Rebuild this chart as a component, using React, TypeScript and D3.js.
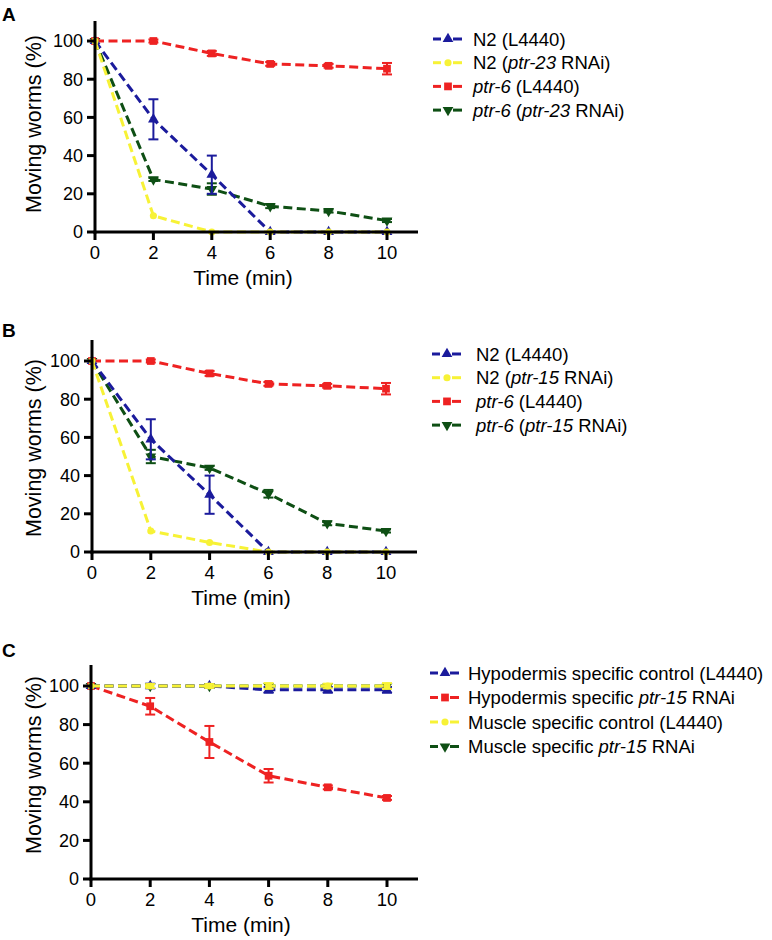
import React, { useEffect, useRef } from "react";
import * as d3 from "d3";

// ---------- data ----------
const TIMES = [0, 2, 4, 6, 8, 10];
const Y_TICKS = [0, 20, 40, 60, 80, 100];
const X_TICKS = [0, 2, 4, 6, 8, 10];
const X_TITLE = "Time (min)";
const Y_TITLE = "Moving worms (%)";

// Panel A
const A_N2_L4440 = [100, 59, 30, 0, 0, 0];
const A_N2_L4440_ERR = [0, 10.5, 10, 0, 0, 0];
const A_N2_PTR23 = [100, 8.5, 0, 0, 0, 0];
const A_N2_PTR23_ERR = [0, 0, 0, 0, 0, 0];
const A_PTR6_L4440 = [100, 100, 93.5, 88, 87, 85.5];
const A_PTR6_L4440_ERR = [0, 0.8, 1.3, 1, 1, 3];
const A_PTR6_PTR23 = [100, 27.5, 22.5, 13.5, 11, 6];
const A_PTR6_PTR23_ERR = [0, 0.8, 3, 1, 0.8, 0.8];

// Panel B
const B_N2_L4440 = [100, 59, 30, 0, 0, 0];
const B_N2_L4440_ERR = [0, 10.5, 10, 0, 0, 0];
const B_N2_PTR15 = [100, 11, 5, 0, 0, 0];
const B_N2_PTR15_ERR = [0, 0, 0, 0, 0, 0];
const B_PTR6_L4440 = [100, 100, 93.5, 88, 87, 85.5];
const B_PTR6_L4440_ERR = [0, 0.8, 1.3, 1, 1, 3];
const B_PTR6_PTR15 = [100, 50, 44, 30.5, 15, 11];
const B_PTR6_PTR15_ERR = [0, 3.5, 1, 2, 1, 0.8];

// Panel C
const C_HYPO_CTRL = [100, 100, 100, 98, 98, 98];
const C_HYPO_CTRL_ERR = [0, 1.2, 1, 1.5, 1.5, 1.5];
const C_HYPO_PTR15 = [100, 89.5, 71, 53.5, 47.5, 42];
const C_HYPO_PTR15_ERR = [0, 4.3, 8.3, 3.5, 1, 1];
const C_MUSC_CTRL = [100, 100, 100, 100, 100, 100];
const C_MUSC_CTRL_ERR = [0, 1, 1, 1.5, 1.2, 1.5];
const C_MUSC_PTR15 = [100, 100, 100, 100, 100, 100];
const C_MUSC_PTR15_ERR = [0, 0, 0, 0, 0, 0];

// ---------- style ----------
const FONT = "'Liberation Sans', Arial, Helvetica, sans-serif";
const BLUE = "#1b1b9c";
const YELLOW = "#f7f236";
const RED = "#ee2222";
const GREEN = "#0e4f14";

type Series = { label: string; color: string; marker: string; values: number[]; err: number[] };

const PANELS = [
  {
    letter: "A", letterY: 21,
    x0: 95, x1: 387, yBot: 232, yTop: 41, axisTop: 21, axisRight: 418, yTitleY: 124,
    legendX: 433, legendY: 39, legendDy: 23.7, textX: 473,
    series: [
      { label: "N2 (L4440)", color: BLUE, marker: "up", values: A_N2_L4440, err: A_N2_L4440_ERR },
      { label: "N2 (*ptr-23* RNAi)", color: YELLOW, marker: "circle", values: A_N2_PTR23, err: A_N2_PTR23_ERR },
      { label: "*ptr-6* (L4440)", color: RED, marker: "square", values: A_PTR6_L4440, err: A_PTR6_L4440_ERR },
      { label: "*ptr-6* (*ptr-23* RNAi)", color: GREEN, marker: "down", values: A_PTR6_PTR23, err: A_PTR6_PTR23_ERR },
    ] as Series[],
    order: [3, 2, 0, 1],
  },
  {
    letter: "B", letterY: 337,
    x0: 92, x1: 386, yBot: 552, yTop: 361, axisTop: 340, axisRight: 417, yTitleY: 448,
    legendX: 432, legendY: 354, legendDy: 23.7, textX: 476,
    series: [
      { label: "N2 (L4440)", color: BLUE, marker: "up", values: B_N2_L4440, err: B_N2_L4440_ERR },
      { label: "N2 (*ptr-15* RNAi)", color: YELLOW, marker: "circle", values: B_N2_PTR15, err: B_N2_PTR15_ERR },
      { label: "*ptr-6* (L4440)", color: RED, marker: "square", values: B_PTR6_L4440, err: B_PTR6_L4440_ERR },
      { label: "*ptr-6* (*ptr-15* RNAi)", color: GREEN, marker: "down", values: B_PTR6_PTR15, err: B_PTR6_PTR15_ERR },
    ] as Series[],
    order: [3, 2, 0, 1],
  },
  {
    letter: "C", letterY: 657,
    x0: 91, x1: 387, yBot: 879, yTop: 686, axisTop: 665, axisRight: 418, yTitleY: 765,
    legendX: 430, legendY: 673, legendDy: 24.5, textX: 468,
    series: [
      { label: "Hypodermis specific control (L4440)", color: BLUE, marker: "up", values: C_HYPO_CTRL, err: C_HYPO_CTRL_ERR },
      { label: "Hypodermis specific *ptr-15* RNAi", color: RED, marker: "square", values: C_HYPO_PTR15, err: C_HYPO_PTR15_ERR },
      { label: "Muscle specific control (L4440)", color: YELLOW, marker: "circle", values: C_MUSC_CTRL, err: C_MUSC_CTRL_ERR },
      { label: "Muscle specific *ptr-15* RNAi", color: GREEN, marker: "down", values: C_MUSC_PTR15, err: C_MUSC_PTR15_ERR },
    ] as Series[],
    order: [3, 1, 0, 2],
  },
];

function symbolPath(marker: string): { d: string; rot: number } {
  if (marker === "square") return { d: d3.symbol(d3.symbolSquare, 60)() as string, rot: 0 };
  if (marker === "circle") return { d: d3.symbol(d3.symbolCircle, 40)() as string, rot: 0 };
  if (marker === "down") return { d: d3.symbol(d3.symbolTriangle, 50)() as string, rot: 180 };
  return { d: d3.symbol(d3.symbolTriangle, 50)() as string, rot: 0 };
}

export default function App() {
  const ref = useRef<SVGSVGElement | null>(null);

  useEffect(() => {
    const svg = d3.select(ref.current);
    svg.selectAll("*").remove();

    for (const p of PANELS) {
      const g = svg.append("g");
      const x = d3.scaleLinear().domain([0, 10]).range([p.x0, p.x1]);
      const y = d3.scaleLinear().domain([0, 100]).range([p.yBot, p.yTop]);

      // data
      for (const idx of p.order) {
        const s = p.series[idx];
        const pts = TIMES.map((t, i) => ({ t, v: s.values[i], e: s.err[i] }));
        const line = d3.line<{ t: number; v: number }>().x((d) => x(d.t)).y((d) => y(d.v));
        g.append("path")
          .attr("d", line(pts) as string)
          .attr("fill", "none")
          .attr("stroke", s.color)
          .attr("stroke-width", 3)
          .attr("stroke-dasharray", "9,4.5");
        // error bars
        pts.filter((d) => d.e > 0.3).forEach((d) => {
          const cx = x(d.t);
          const y1 = y(d.v + d.e);
          const y2 = y(d.v - d.e);
          const eg = g.append("g").attr("stroke", s.color).attr("stroke-width", 2);
          eg.append("line").attr("x1", cx).attr("x2", cx).attr("y1", y1).attr("y2", y2);
          eg.append("line").attr("x1", cx - 5).attr("x2", cx + 5).attr("y1", y1).attr("y2", y1);
          eg.append("line").attr("x1", cx - 5).attr("x2", cx + 5).attr("y1", y2).attr("y2", y2);
        });
        const sym = symbolPath(s.marker);
        g.selectAll(null)
          .data(pts)
          .enter()
          .append("path")
          .attr("d", sym.d)
          .attr("transform", (d) => `translate(${x(d.t)},${y(d.v)}) rotate(${sym.rot})`)
          .attr("fill", s.color);
      }

      // axes
      const ax = g.append("g").attr("stroke", "#000").attr("stroke-width", 3);
      ax.append("line").attr("x1", p.x0).attr("x2", p.x0).attr("y1", p.axisTop).attr("y2", p.yBot + 1.5);
      ax.append("line").attr("x1", p.x0 - 1.5).attr("x2", p.axisRight).attr("y1", p.yBot).attr("y2", p.yBot);
      Y_TICKS.forEach((t) => {
        ax.append("line").attr("x1", p.x0 - 8).attr("x2", p.x0).attr("y1", y(t)).attr("y2", y(t));
      });
      X_TICKS.forEach((t) => {
        ax.append("line").attr("x1", x(t)).attr("x2", x(t)).attr("y1", p.yBot).attr("y2", p.yBot + 8);
      });

      const txt = g.append("g").attr("font-family", FONT).attr("fill", "#000");
      Y_TICKS.forEach((t) => {
        txt.append("text")
          .attr("x", p.x0 - 12)
          .attr("y", y(t))
          .attr("dy", "0.36em")
          .attr("text-anchor", "end")
          .attr("font-size", 18)
          .text(String(t));
      });
      X_TICKS.forEach((t) => {
        txt.append("text")
          .attr("x", x(t))
          .attr("y", p.yBot + 27)
          .attr("text-anchor", "middle")
          .attr("font-size", 18.5)
          .text(String(t));
      });
      txt.append("text")
        .attr("x", (p.x0 + p.x1) / 2 + 2)
        .attr("y", p.yBot + 53)
        .attr("text-anchor", "middle")
        .attr("font-size", 21)
        .text(X_TITLE);
      txt.append("text")
        .attr("transform", `translate(41,${p.yTitleY}) rotate(-90)`)
        .attr("text-anchor", "middle")
        .attr("font-size", 21.5)
        .text(Y_TITLE);
      txt.append("text")
        .attr("x", 2)
        .attr("y", p.letterY)
        .attr("font-size", 19)
        .attr("font-weight", "bold")
        .text(p.letter);

      // legend
      p.series.forEach((s, i) => {
        const ly = p.legendY + i * p.legendDy;
        const lg = g.append("g");
        lg.append("line")
          .attr("x1", p.legendX).attr("x2", p.legendX + 8).attr("y1", ly).attr("y2", ly)
          .attr("stroke", s.color).attr("stroke-width", 3);
        lg.append("line")
          .attr("x1", p.legendX + 20).attr("x2", p.legendX + 29).attr("y1", ly).attr("y2", ly)
          .attr("stroke", s.color).attr("stroke-width", 3);
        const sym = symbolPath(s.marker);
        lg.append("path")
          .attr("d", sym.d)
          .attr("transform", `translate(${p.legendX + 15},${ly}) rotate(${sym.rot})`)
          .attr("fill", s.color);
        const t = lg.append("text")
          .attr("x", p.textX)
          .attr("y", ly)
          .attr("dy", "0.36em")
          .attr("font-family", FONT)
          .attr("font-size", 18.5)
          .attr("fill", "#000");
        s.label.split("*").forEach((part, k) => {
          if (!part) return;
          t.append("tspan").attr("font-style", k % 2 === 1 ? "italic" : "normal").text(part);
        });
      });
    }
  }, []);

  return (
    <svg
      ref={ref}
      width={772}
      height={940}
      style={{ position: "absolute", left: 0, top: 0, background: "#fff" }}
    />
  );
}
